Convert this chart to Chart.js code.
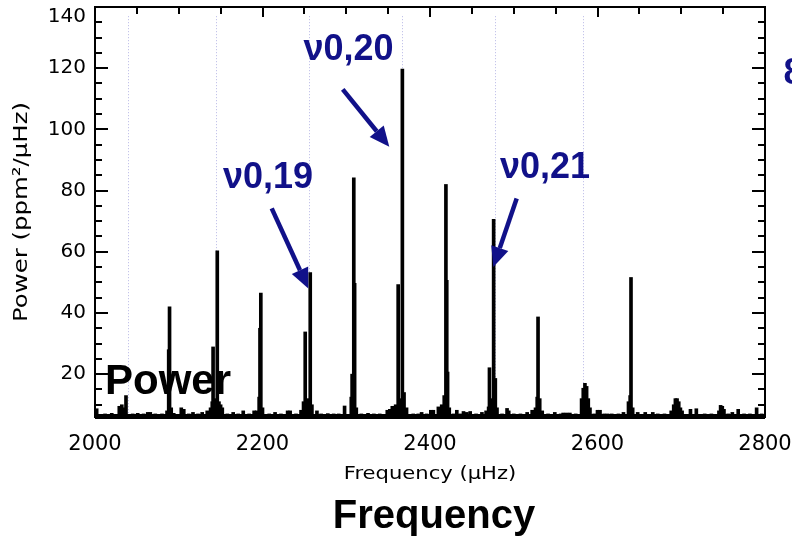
<!DOCTYPE html>
<html>
<head>
<meta charset="utf-8">
<script src="https://cdn.jsdelivr.net/npm/chart.js@4"></script>
<style>
  html, body { margin: 0; padding: 0; background: #fff; }
  #wrap { width: 792px; height: 539px; }
</style>
</head>
<body>
<div id="wrap"><canvas id="spectrum" width="792" height="539"></canvas></div>
<script>
// power spectrum (frequency in µHz, power in ppm²/µHz)
const freq = [
  2002, 2012, 2020, 2029, 2032, 2035, 2037, 2045, 2051, 2058, 2063, 2066, 2072, 2080, 2086,
  2088, 2089, 2091, 2094, 2103, 2106, 2112, 2117, 2123, 2128, 2134, 2138, 2140, 2141, 2143,
  2146, 2148, 2150, 2152, 2158, 2165, 2171, 2177, 2184, 2190, 2193, 2196, 2197, 2198, 2200,
  2208, 2215, 2222, 2230, 2233, 2240, 2246, 2249, 2251, 2254, 2257, 2259, 2265, 2270, 2278,
  2285, 2291, 2298, 2306, 2307, 2309, 2310, 2312, 2318, 2326, 2333, 2340, 2349, 2352, 2355,
  2359, 2362, 2364, 2367, 2369, 2372, 2380, 2386, 2390, 2396, 2401, 2404, 2410, 2414, 2417,
  2419, 2420, 2421, 2423, 2428, 2432, 2436, 2440, 2444, 2448, 2455, 2462, 2467, 2470, 2471,
  2473, 2476, 2478, 2480, 2486, 2492, 2494, 2500, 2508, 2516, 2522, 2526, 2528, 2529, 2531,
  2534, 2541, 2549, 2556, 2559, 2563, 2567, 2574, 2581, 2583, 2585, 2587, 2589, 2591, 2596,
  2600, 2603, 2608, 2612, 2617, 2625, 2631, 2637, 2639, 2640, 2642, 2648, 2657, 2666, 2672,
  2680, 2688, 2691, 2693, 2695, 2697, 2699, 2701, 2711, 2718, 2728, 2736, 2745, 2747, 2749,
  2751, 2756, 2761, 2768, 2775, 2782, 2790, 2796
];
const power = [
  8.7, 7, 7.2, 9.5, 10, 9, 13, 7, 7.2, 7, 7.5, 7.5, 7, 7, 8,
  28, 42, 9, 7.2, 9, 8.5, 7, 7.5, 7, 7.5, 8, 9, 11, 28.9, 12,
  60.3, 11, 10, 9, 7, 7.5, 7, 8, 7, 8, 8, 12.5, 35, 46.5, 9,
  7, 7.5, 7, 8, 8, 7, 8.2, 11, 33.8, 12, 53.2, 10, 8, 7, 7.1,
  7, 7, 9.6, 12.5, 20, 84.2, 49.7, 9, 7, 7.2, 7, 7, 8.2, 8.5, 9.5,
  10, 49.3, 12, 119.7, 14, 9, 7, 7, 7.5, 7, 8.2, 8.2, 9.3, 10, 13,
  82, 50.7, 20.7, 9, 7, 8.2, 7, 7.8, 7.5, 7.8, 7, 7.5, 8, 9.3, 22.1,
  12, 70.6, 18.6, 9, 7, 8.8, 8, 7, 7, 7.5, 8.2, 9, 12.5, 38.7, 12,
  8, 7, 7.5, 7, 7.3, 7.3, 7.3, 7, 12, 15.4, 17, 16, 12, 9, 7,
  8.2, 8.2, 7, 7, 7, 7, 7.5, 11, 13, 51.6, 9, 7.5, 7.5, 7.5, 7,
  7, 8, 10, 12, 12, 11, 9, 8, 8.5, 8.7, 7, 7, 8, 9.8, 9.5,
  8.5, 7, 7.5, 8.5, 7, 7, 9, 7
];
// l=0 mode frequencies marked by the dotted lines
const modeLines = [2039, 2144, 2255.5, 2367, 2478, 2583];
const xTicks = [2000, 2200, 2400, 2600, 2800];
const yTicks = [20, 40, 60, 80, 100, 120, 140];

const NAVY = "#111189";

// annotation labels and arrows, placed in data units
const notes = [
  { text: "ν0,19", at: [2206.6, 84.1], from: [2211, 74.2], to: [2254.7, 48] },
  { text: "ν0,20", at: [2302.7, 125.9], from: [2295.8, 113.1], to: [2351.4, 94.3] },
  { text: "ν0,21", at: [2537.3, 87.3], from: [2503.5, 77.4], to: [2475.6, 55] }
];

const drawText = (ctx, str, x, y, font, color, align, sx = 1, rot = 0, base = "alphabetic") => {
  ctx.save();
  ctx.translate(x, y);
  if (rot) ctx.rotate(rot);
  ctx.scale(sx, 1);
  ctx.font = font;
  ctx.fillStyle = color;
  ctx.textAlign = align;
  ctx.textBaseline = base;
  ctx.fillText(str, 0, 0);
  ctx.restore();
};

const arrow = (ctx, x1, y1, x2, y2) => {
  const ang = Math.atan2(y2 - y1, x2 - x1);
  const head = 20, half = 9;
  const bx = x2 - head * Math.cos(ang), by = y2 - head * Math.sin(ang);
  ctx.save();
  ctx.strokeStyle = NAVY;
  ctx.fillStyle = NAVY;
  ctx.lineWidth = 4.5;
  ctx.beginPath();
  ctx.moveTo(x1, y1);
  ctx.lineTo(bx, by);
  ctx.stroke();
  ctx.beginPath();
  ctx.moveTo(x2, y2);
  ctx.lineTo(bx + half * Math.sin(ang), by - half * Math.cos(ang));
  ctx.lineTo(bx - half * Math.sin(ang), by + half * Math.cos(ang));
  ctx.closePath();
  ctx.fill();
  ctx.restore();
};

const decor = {
  id: "decor",
  beforeDatasetsDraw(chart) {
    const { ctx, chartArea: a, scales: { x, y } } = chart;
    ctx.save();
    ctx.strokeStyle = "#b8b8e6";
    ctx.lineWidth = 1;
    ctx.setLineDash([1, 2]);
    modeLines.forEach((f) => {
      const px = Math.round(x.getPixelForValue(f)) + 0.5;
      ctx.beginPath();
      ctx.moveTo(px, y.getPixelForValue(137));
      ctx.lineTo(px, a.bottom);
      ctx.stroke();
    });
    ctx.restore();
  },
  afterDatasetsDraw(chart) {
    const { ctx, chartArea: a, scales: { x, y } } = chart;
    ctx.save();
    // frame
    ctx.strokeStyle = "#000";
    ctx.lineWidth = 2;
    ctx.strokeRect(a.left, a.top, a.right - a.left, a.bottom - a.top);
    ctx.fillStyle = "#000";
    ctx.fillRect(a.left, a.bottom - 3, a.right - a.left, 5);
    // inward ticks
    ctx.lineWidth = 2;
    for (let v = 10; v < 140; v += 5) {
      const py = Math.round(y.getPixelForValue(v));
      const len = v % 20 === 0 ? 13 : 7;
      ctx.beginPath();
      ctx.moveTo(a.left, py); ctx.lineTo(a.left + len, py);
      ctx.moveTo(a.right, py); ctx.lineTo(a.right - len, py);
      ctx.stroke();
    }
    for (let f = 2050; f < 2800; f += 50) {
      const px = Math.round(x.getPixelForValue(f));
      const len = f % 200 === 0 ? 10 : 7;
      ctx.beginPath();
      ctx.moveTo(px, a.top); ctx.lineTo(px, a.top + len);
      ctx.stroke();
    }
    ctx.restore();

    // axis titles
    drawText(ctx, "Frequency (μHz)", (a.left + a.right) / 2, a.bottom + 62,
      "17px 'DejaVu Sans'", "#000", "center", 1.24);
    drawText(ctx, "Power (ppm²/μHz)", 22, 212, "20px 'DejaVu Sans'", "#000", "center",
      1.22, -Math.PI / 2, "middle");
    drawText(ctx, "Frequency", 434, 528, "bold 40px 'Liberation Sans'", "#000", "center");
    drawText(ctx, "Power", a.left + 10, y.getPixelForValue(18) + 14,
      "bold 42px 'Liberation Sans'", "#000", "left");

    // mode labels
    notes.forEach((n) => {
      drawText(ctx, n.text, x.getPixelForValue(n.at[0]), y.getPixelForValue(n.at[1]),
        "bold 36px 'Liberation Sans'", NAVY, "center", 1, 0, "middle");
      arrow(ctx, x.getPixelForValue(n.from[0]), y.getPixelForValue(n.from[1]),
        x.getPixelForValue(n.to[0]), y.getPixelForValue(n.to[1]));
    });
    drawText(ctx, "8", x.getPixelForValue(2822), y.getPixelForValue(118),
      "bold 36px 'Liberation Sans'", NAVY, "left", 1, 0, "middle");
  }
};

new Chart(document.querySelector("#spectrum"), {
  type: "bar",
  data: {
    datasets: [{
      label: "Power",
      data: freq.map((f, i) => ({ x: f, y: power[i] })),
      backgroundColor: "#000",
      borderWidth: 0,
      barThickness: 3
    }]
  },
  options: {
    responsive: false,
    animation: false,
    layout: { padding: { top: 7, right: 27, left: 0, bottom: 0 } },
    plugins: { legend: { display: false }, tooltip: { enabled: false } },
    scales: {
      x: {
        type: "linear",
        offset: false,
        min: 2000,
        max: 2800,
        afterBuildTicks: (s) => { s.ticks = xTicks.map((v) => ({ value: v })); },
        afterFit: (s) => { s.height = 122; s.paddingLeft = 0; s.paddingRight = 0; },
        grid: { display: false, drawTicks: false, offset: false },
        border: { display: false },
        ticks: {
          padding: 15,
          color: "#000",
          maxRotation: 0,
          font: { family: "'DejaVu Sans'", size: 21 },
          callback: (v) => String(v)
        }
      },
      y: {
        min: 6,
        max: 140,
        afterBuildTicks: (s) => { s.ticks = yTicks.map((v) => ({ value: v })); },
        afterFit: (s) => { s.width = 95; s.paddingTop = 0; s.paddingBottom = 0; },
        grid: { display: false, drawTicks: false },
        border: { display: false },
        ticks: {
          padding: 9,
          color: "#000",
          font: { family: "'DejaVu Sans'", size: 20, lineHeight: 1 },
          callback: (v) => (v === 140 ? ["", "140"] : v)
        }
      }
    }
  },
  plugins: [decor]
});
</script>
</body>
</html>
